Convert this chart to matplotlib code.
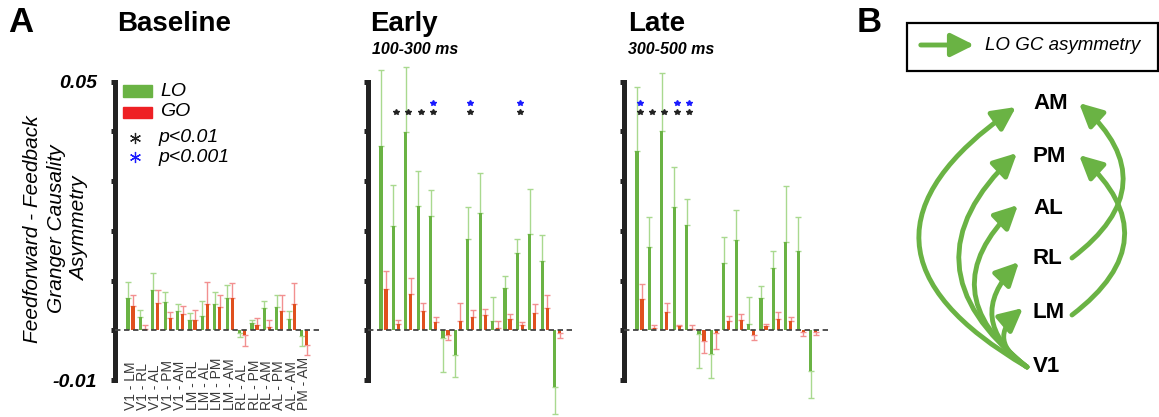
import numpy as np
import matplotlib
matplotlib.use('Agg')
import matplotlib.pyplot as plt
import matplotlib.transforms as mtransforms
from matplotlib.patches import Rectangle, FancyArrowPatch, ArrowStyle

plt.rcParams['font.family'] = ['Liberation Sans', 'DejaVu Sans']

pairs = ['V1 - LM', 'V1 - RL', 'V1 - AL', 'V1 - PM', 'V1 - AM', 'LM - RL', 'LM - AL', 'LM - PM',
         'LM - AM', 'RL - AL', 'RL - PM', 'RL - AM', 'AL - PM', 'AL - AM', 'PM - AM']

# baseline
base_lo = [0.0064, 0.0027, 0.0081, 0.0056, 0.0039, 0.0020, 0.0028, 0.0052, 0.0064, -0.0005, 0.0014, 0.0044, 0.0047, 0.0022, -0.0011]
base_lo_err = [0.0034, 0.0013, 0.0034, 0.0022, 0.0013, 0.0015, 0.0031, 0.0026, 0.0027, 0.0009, 0.0006, 0.0015, 0.0025, 0.0016, 0.0021]
base_go = [0.0049, 0.0003, 0.0055, 0.0024, 0.0032, 0.0020, 0.0053, 0.0046, 0.0065, -0.0010, 0.0011, 0.0007, 0.0038, 0.0053, -0.0029]
base_go_err = [0.0023, 0.0007, 0.0027, 0.0013, 0.0017, 0.0020, 0.0044, 0.0024, 0.0031, 0.0022, 0.0013, 0.0013, 0.0032, 0.0043, 0.0020]

# early 100-300 ms
early_lo = [0.0370, 0.0210, 0.0399, 0.0250, 0.0230, -0.0015, -0.0050, 0.0183, 0.0236, 0.0018, 0.0085, 0.0156, 0.0193, 0.0139, -0.0114]
early_lo_err = [0.0153, 0.0083, 0.0131, 0.0070, 0.0052, 0.0069, 0.0044, 0.0065, 0.0080, 0.0049, 0.0024, 0.0028, 0.0092, 0.0052, 0.0054]
early_go = [0.0083, 0.0013, 0.0073, 0.0038, 0.0016, -0.0009, 0.0019, 0.0026, 0.0031, 0.0004, 0.0022, 0.0010, 0.0035, 0.0045, -0.0005]
early_go_err = [0.0036, 0.0008, 0.0032, 0.0016, 0.0010, 0.0011, 0.0035, 0.0014, 0.0011, 0.0014, 0.0011, 0.0007, 0.0018, 0.0027, 0.0010]

# late 300-500 ms
late_lo = [0.0361, 0.0168, 0.0401, 0.0248, 0.0211, -0.0008, -0.0047, 0.0136, 0.0181, 0.0013, 0.0064, 0.0126, 0.0177, 0.0160, -0.0081]
late_lo_err = [0.0129, 0.0060, 0.0117, 0.0080, 0.0053, 0.0067, 0.0048, 0.0051, 0.0061, 0.0053, 0.0025, 0.0034, 0.0114, 0.0067, 0.0055]
late_go = [0.0062, 0.0004, 0.0036, 0.0009, 0.0003, -0.0021, -0.0005, 0.0018, 0.0020, -0.0009, 0.0008, 0.0022, 0.0018, -0.0004, -0.0003]
late_go_err = [0.0031, 0.0007, 0.0019, 0.0002, 0.0008, 0.0024, 0.0032, 0.0011, 0.0013, 0.0010, 0.0005, 0.0014, 0.0009, 0.0007, 0.0007]

# significance marks (pair index)
early_p01 = [1, 2, 3, 4, 7, 11]
early_p001 = [4, 7, 11]
late_p01 = [0, 1, 2, 3, 4]
late_p001 = [0, 3, 4]

nodes = ['AM', 'PM', 'AL', 'RL', 'LM', 'V1']

GREEN = '#6ab344'
GREEN_L = '#a9d98f'
RED = '#e0501e'
RED_L = '#f29090'
W, H = 1159, 417

fig = plt.figure(figsize=(W / 100, H / 100), dpi=100)


def fx(px):
    return px / W


def fy(py):
    return 1 - py / H


def one_sided(vals, errs):
    v = np.array(vals)
    e = np.array(errs)
    return np.vstack([np.where(v < 0, e, 0), np.where(v >= 0, e, 0)])


def panel(left_px, lo, lo_err, go, go_err, p01=None, p001=None, labels=False):
    ax = fig.add_axes([fx(left_px), fy(386), 204 / W, (386 - 56.8) / H])
    x = np.arange(len(pairs))
    ax.bar(x - 0.2, lo, 0.25, color=GREEN, zorder=3, clip_on=False)
    ax.bar(x + 0.2, go, 0.25, color=RED, zorder=3, clip_on=False)
    ax.errorbar(x - 0.2, lo, yerr=one_sided(lo, lo_err), fmt='none', ecolor=GREEN_L,
                elinewidth=1, capsize=2.5, capthick=1, zorder=2, clip_on=False)
    ax.errorbar(x + 0.2, go, yerr=one_sided(go, go_err), fmt='none', ecolor=RED_L,
                elinewidth=1, capsize=2.5, capthick=1, zorder=2, clip_on=False)
    ax.axhline(0, color='#444444', lw=1.3, ls=(0, (3, 2)), zorder=4)
    if p01:
        ax.plot(x[p01], [0.0438] * len(p01), ls='none', marker='*', ms=4, color='#222222', clip_on=False)
    if p001:
        ax.plot(x[p001], [0.0458] * len(p001), ls='none', marker='*', ms=4, color='#1a1aff', clip_on=False)
    ax.set_xlim(-1.25, 15.2)
    ax.set_ylim(-0.0112, 0.055)
    for s in ['top', 'right', 'bottom']:
        ax.spines[s].set_visible(False)
    ax.spines['left'].set_bounds(-0.01, 0.05)
    ax.spines['left'].set_linewidth(3.6)
    ax.spines['left'].set_color('#222222')
    ax.set_xticks([])
    ticks = np.arange(-0.01, 0.0501, 0.01)
    ax.set_yticks(ticks)
    ax.tick_params(axis='y', direction='out', length=3, width=3.6, color='#222222', pad=10)
    if labels:
        ax.set_yticklabels(['-0.01', '', '', '', '', '', '0.05'], fontsize=14,
                           fontweight='bold', fontstyle='italic')
        trans = mtransforms.blended_transform_factory(ax.transData, fig.transFigure)
        for i, lab in enumerate(pairs):
            ax.text(i, fy(410), lab, rotation=90, ha='center', va='bottom', fontsize=10,
                    color='#3a3a3a', transform=trans)
    else:
        ax.set_yticklabels([])
    ax.patch.set_visible(False)
    return ax


panel(115, base_lo, base_lo_err, base_go, base_go_err, labels=True)
panel(368, early_lo, early_lo_err, early_go, early_go_err, early_p01, early_p001)
panel(624, late_lo, late_lo_err, late_go, late_go_err, late_p01, late_p001)

# titles
fig.text(fx(8), fy(22), 'A', fontsize=25, fontweight='bold', va='center')
fig.text(fx(117), fy(24), 'Baseline', fontsize=20, fontweight='bold', va='center')
fig.text(fx(370), fy(24), 'Early', fontsize=20, fontweight='bold', va='center')
fig.text(fx(628), fy(24), 'Late', fontsize=20, fontweight='bold', va='center')
fig.text(fx(372), fy(50), '100-300 ms', fontsize=11.5, fontweight='bold', fontstyle='italic', va='center')
fig.text(fx(628), fy(50), '300-500 ms', fontsize=11.5, fontweight='bold', fontstyle='italic', va='center')

fig.text(fx(56), fy(229), 'Feedforward - Feedback\nGranger Causality\nAsymmetry', rotation=90,
         ha='center', va='center', multialignment='center', fontsize=15,
         fontstyle='italic', fontweight='medium', linespacing=1.3)

# legend of panel A
fig.add_artist(Rectangle((fx(123), fy(97)), fx(29), 12 / H, color=GREEN, transform=fig.transFigure))
fig.add_artist(Rectangle((fx(123), fy(118)), fx(29), 11 / H, color='#ee2024', transform=fig.transFigure))
fig.text(fx(160), fy(91), 'LO', fontsize=14, fontstyle='italic', va='center')
fig.text(fx(160), fy(112), 'GO', fontsize=14, fontstyle='italic', va='center')
fig.add_artist(plt.Line2D([fx(135)], [fy(138)], marker=(6, 2, 0), ms=8, mew=0.9, color='#222222',
                          transform=fig.transFigure))
fig.add_artist(plt.Line2D([fx(135)], [fy(157)], marker=(6, 2, 0), ms=8, mew=0.9, color='#1a1aff',
                          transform=fig.transFigure))
fig.text(fx(158), fy(137), 'p<0.01', fontsize=14, fontstyle='italic', va='center')
fig.text(fx(158), fy(157), 'p<0.001', fontsize=14, fontstyle='italic', va='center')

# panel B
fig.text(fx(857), fy(22), 'B', fontsize=25, fontweight='bold', va='center')
axb = fig.add_axes([fx(860), 0, 299 / W, 1])
axb.set_xlim(860, 1159)
axb.set_ylim(417, 0)
axb.axis('off')
axb.add_patch(Rectangle((907, 23), 250.5, 48, fill=False, lw=1.6, edgecolor='black'))
head = ArrowStyle('-|>', head_length=0.7, head_width=0.35)
axb.add_patch(FancyArrowPatch((918, 45), (977, 45), arrowstyle=head, mutation_scale=20,
                              color=GREEN, lw=3.5))
axb.text(985, 45, 'LO GC asymmetry', fontsize=13.5, fontstyle='italic', va='center')

node_y = [103, 157, 208, 258, 313, 367]
for name, y in zip(nodes, node_y):
    axb.text(1033, y, name, fontsize=16, fontweight='bold', va='center')

# arrows from V1
ends = [(1016, 107, -0.78), (1017, 153, -0.58), (1018, 205, -0.58), (1019, 262, -0.57), (1023, 308, -0.68)]
for ex, ey, rad in ends:
    axb.add_patch(FancyArrowPatch((1027, 367), (ex, ey), arrowstyle=head, mutation_scale=20,
                                  color=GREEN, lw=3.5, connectionstyle='arc3,rad=%s' % rad,
                                  shrinkA=0, shrinkB=0))
# RL -> AM, LM -> PM
axb.add_patch(FancyArrowPatch((1072, 258), (1079, 103), arrowstyle=head, mutation_scale=20,
                              color=GREEN, lw=3.5, connectionstyle='arc3,rad=0.6', shrinkA=0, shrinkB=0))
axb.add_patch(FancyArrowPatch((1072, 315), (1079, 155), arrowstyle=head, mutation_scale=20,
                              color=GREEN, lw=3.5, connectionstyle='arc3,rad=0.6', shrinkA=0, shrinkB=0))

plt.savefig('out.png', dpi=100)
